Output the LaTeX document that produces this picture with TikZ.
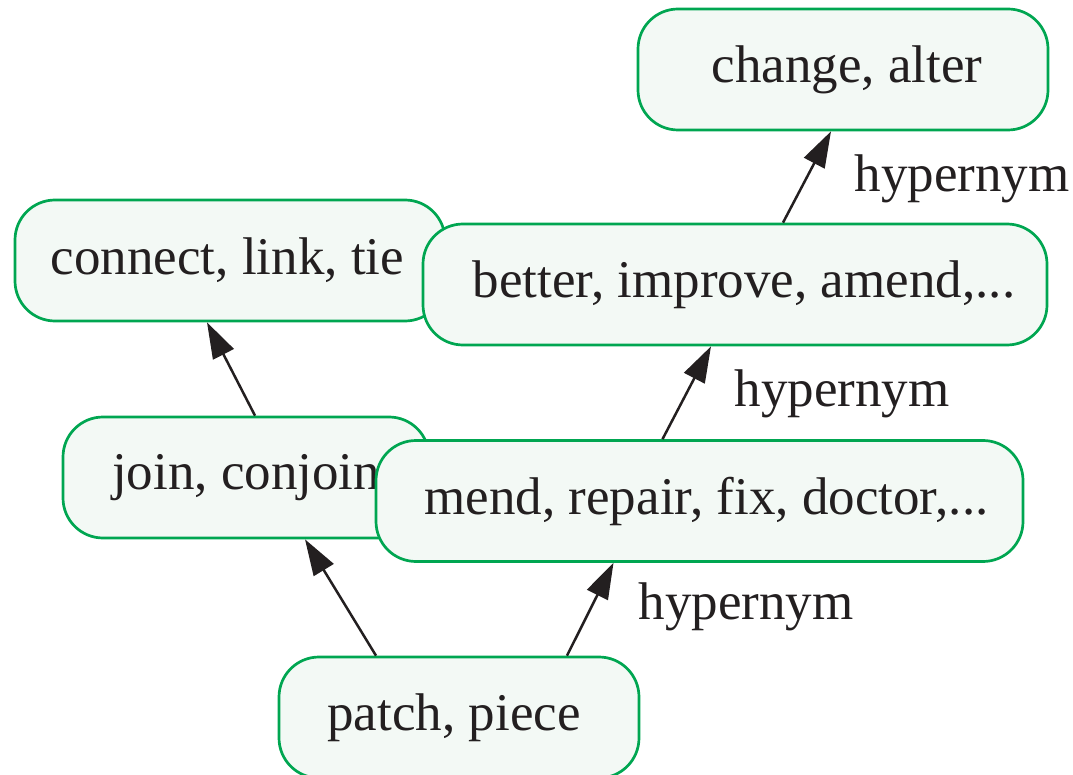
\documentclass[tikz,border=0pt]{standalone}
\usepackage{fontspec}
\setmainfont{Liberation Serif}
\usetikzlibrary{arrows.meta}
\definecolor{synborder}{RGB}{0,166,81}
\definecolor{synfill}{RGB}{243,249,245}
\definecolor{ink}{RGB}{35,31,32}
\tikzset{
  synset/.style={draw=synborder, fill=synfill, line width=2.7pt,
    rounded corners=40pt, inner sep=0pt, text=ink,
    font=\fontsize{53}{64}\selectfont},
  relname/.style={text=ink, inner sep=0pt, font=\fontsize{53}{64}\selectfont},
  hyper/.style={draw=ink, line width=2.5pt,
    -{Triangle[length=36pt,width=23pt]}}
}
\begin{document}
\begin{tikzpicture}[x=1pt,y=-1pt]
\useasboundingbox (0,0) rectangle (1073,775);
% synset boxes, back to front
\node[synset, minimum width=410pt, minimum height=121pt] (change) at (843,69.5) {\kern8pt change, alter};
\node[synset, minimum width=430pt, minimum height=121pt] (connect) at (230,260.5) {connect, link, tie\kern5pt};
\node[synset, minimum width=624pt, minimum height=121pt] (better) at (735,284.5) {\kern18pt better, improve, amend,...};
\node[synset, minimum width=366pt, minimum height=121pt] (join) at (246,477.5) {join, conjoin};
\node[synset, minimum width=647pt, minimum height=121pt] (mend) at (699.5,501) {\kern14pt mend, repair, fix, doctor,...};
\node[synset, minimum width=360pt, minimum height=121pt] (patch) at (459,717.5) {patch, piece\kern10pt};
% hypernym links
\draw[hyper] ([xshift=-83pt]patch.north) -- ([xshift=59pt]join.south);
\draw[hyper] ([xshift=108pt]patch.north) -- ([xshift=-86pt]mend.south);
\draw[hyper] ([xshift=9pt]join.north) -- ([xshift=-23pt]connect.south);
\draw[hyper] ([xshift=-37pt]mend.north) -- ([xshift=-24pt]better.south);
\draw[hyper] ([xshift=48pt]better.north) -- ([xshift=-12pt]change.south);
% relation labels
\node[relname] (h1) at (962,179) {hypernym};
\node[relname] (h2) at (842,394) {hypernym};
\node[relname] (h3) at (746,607) {hypernym};
\end{tikzpicture}
\end{document}
